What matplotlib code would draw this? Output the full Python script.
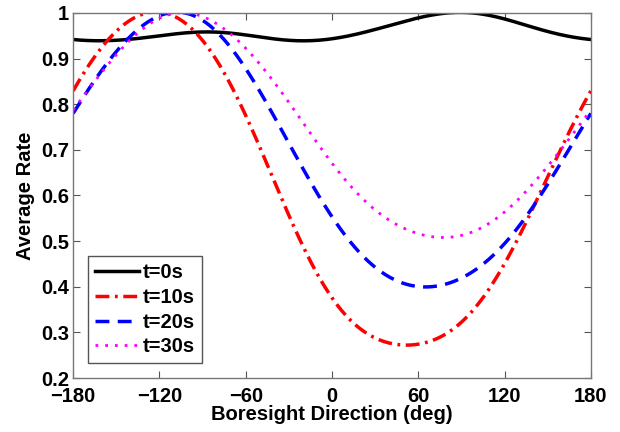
import numpy as np
import matplotlib
matplotlib.use("Agg")
import matplotlib.pyplot as plt

plt.rcParams["font.family"] = ["Liberation Sans", "DejaVu Sans"]
plt.rcParams["font.weight"] = "bold"

# boresight angle (deg) and average rate
angle = [-180, -160, -140, -120, -100, -80, -60, -40, -20, 0,
         20, 40, 60, 80, 100, 120, 140, 160, 180]
rate_t0 = [0.942, 0.940, 0.942, 0.949, 0.958, 0.958, 0.951, 0.943, 0.940, 0.943,
           0.955, 0.973, 0.990, 0.999, 0.999, 0.988, 0.968, 0.951, 0.942]
rate_t10 = [0.830, 0.926, 0.985, 1.000, 0.973, 0.898, 0.772, 0.630, 0.490, 0.375,
            0.305, 0.278, 0.275, 0.297, 0.355, 0.452, 0.575, 0.705, 0.830]
rate_t20 = [0.776, 0.877, 0.950, 0.993, 0.998, 0.959, 0.877, 0.774, 0.654, 0.556,
            0.472, 0.420, 0.400, 0.408, 0.438, 0.492, 0.578, 0.678, 0.775]
rate_t30 = [0.785, 0.872, 0.942, 0.988, 1.000, 0.975, 0.925, 0.845, 0.760, 0.670,
            0.598, 0.545, 0.515, 0.510, 0.523, 0.562, 0.628, 0.705, 0.782]
labels = ["t=0s", "t=10s", "t=20s", "t=30s"]

x_fine = np.linspace(-180, 180, 361)


def smooth(y):
    # periodic curve through the read points (small Fourier fit)
    xs = np.radians(np.array(angle[:-1], dtype=float))
    ys = np.array(y[:-1], dtype=float)
    n = 4
    cols = [np.ones_like(xs)]
    for k in range(1, n + 1):
        cols += [np.cos(k * xs), np.sin(k * xs)]
    A = np.vstack(cols).T
    coef, *_ = np.linalg.lstsq(A, ys, rcond=None)
    xf = np.radians(x_fine)
    cols = [np.ones_like(xf)]
    for k in range(1, n + 1):
        cols += [np.cos(k * xf), np.sin(k * xf)]
    return np.vstack(cols).T @ coef


fig = plt.figure(figsize=(6.2, 4.32), dpi=100)
ax = fig.add_axes([0.118, 0.125, 0.835, 0.845])

ax.plot(x_fine, smooth(rate_t0), color="black", lw=2.5, ls="-", label=labels[0])
ax.plot(x_fine, smooth(rate_t10), color="red", lw=2.5, ls=(0, (4, 1.6, 0.8, 1.6)), label=labels[1])
ax.plot(x_fine, smooth(rate_t20), color="blue", lw=2.5, ls=(0, (4, 2.4)), label=labels[2])
ax.plot(x_fine, smooth(rate_t30), color="magenta", lw=2.0, ls=(0, (1, 2.5)), label=labels[3])

ax.set_xlim(-180, 180)
ax.set_ylim(0.2, 1.0)
ax.set_xticks([-180, -120, -60, 0, 60, 120, 180])
ax.set_xticklabels(["\u2212180", "\u2212120", "\u221260", "0", "60", "120", "180"])
ax.set_yticks([0.2, 0.3, 0.4, 0.5, 0.6, 0.7, 0.8, 0.9, 1.0])
ax.set_yticklabels(["0.2", "0.3", "0.4", "0.5", "0.6", "0.7", "0.8", "0.9", "1"])
ax.tick_params(direction="in", top=True, right=True, length=5, width=0.8,
               colors="#555555", labelcolor="black", labelsize=14.5, pad=3)
ax.tick_params(axis="x", pad=6.5)
for sp in ax.spines.values():
    sp.set_color("#777777")
    sp.set_linewidth(1.0)

ax.set_xlabel("Boresight Direction (deg)", fontsize=14.5, fontweight="bold")
ax.xaxis.set_label_coords(0.5, -0.075)
ax.set_ylabel("Average Rate", fontsize=14.5, fontweight="bold", labelpad=4)

leg = ax.legend(loc="lower left", bbox_to_anchor=(0.028, 0.04), fontsize=14.5,
                handlelength=2.2, handletextpad=0.2, borderpad=0.35,
                labelspacing=0.28, fancybox=False, framealpha=1, borderaxespad=0)
leg.get_frame().set_edgecolor("#555555")
leg.get_frame().set_linewidth(1.0)

fig.savefig("out.png", dpi=100)
